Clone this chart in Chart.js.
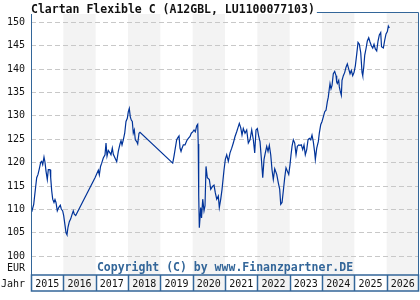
<!DOCTYPE html>
<html>
<head>
<meta charset="utf-8">
<script src="https://cdn.jsdelivr.net/npm/chart.js@4.4.0/dist/chart.umd.min.js"></script>
<style>
html, body { margin: 0; padding: 0; background: #fff; }
</style>
</head>
<body>
<canvas id="myChart" width="420" height="300"></canvas>
<script>
const chartTitle = 'Clartan Flexible C (A12GBL, LU1100077103)';
const copyright = 'Copyright (C) by www.Finanzpartner.DE';
const years = [2015, 2016, 2017, 2018, 2019, 2020, 2021, 2022, 2023, 2024, 2025, 2026];
const yTicks = [100, 105, 110, 115, 120, 125, 130, 135, 140, 145, 150];

// decimal years
const dates = [
    2015.022, 2015.084, 2015.114, 2015.145, 2015.176, 2015.217, 2015.257, 2015.300, 2015.331, 2015.362,
    2015.402, 2015.433, 2015.464, 2015.504, 2015.535, 2015.588, 2015.609, 2015.640, 2015.671, 2015.711,
    2015.742, 2015.773, 2015.813, 2015.857, 2015.906, 2015.937, 2015.980, 2016.011, 2016.052, 2016.083,
    2016.113, 2016.144, 2016.185, 2016.228, 2016.268, 2016.308, 2016.339, 2016.383, 2016.980, 2017.082,
    2017.113, 2017.150, 2017.187, 2017.236, 2017.289, 2017.320, 2017.351, 2017.391, 2017.443, 2017.474,
    2017.515, 2017.546, 2017.598, 2017.651, 2017.700, 2017.753, 2017.784, 2017.815, 2017.855, 2017.898,
    2017.938, 2017.979, 2018.010, 2018.040, 2018.071, 2018.102, 2018.133, 2018.164, 2018.195, 2018.226,
    2018.269, 2018.300, 2018.340, 2018.371, 2019.383, 2019.423, 2019.463, 2019.506, 2019.547, 2019.578,
    2019.609, 2019.640, 2019.671, 2019.711, 2019.763, 2019.816, 2019.865, 2019.918, 2019.958, 2020.001,
    2020.042, 2020.082, 2020.125, 2020.156, 2020.172, 2020.187, 2020.206, 2020.249, 2020.274, 2020.311,
    2020.351, 2020.382, 2020.413, 2020.453, 2020.515, 2020.558, 2020.620, 2020.660, 2020.700, 2020.744,
    2020.793, 2020.824, 2020.868, 2020.908, 2020.970, 2021.010, 2021.053, 2021.103, 2021.155, 2021.208,
    2021.257, 2021.310, 2021.362, 2021.412, 2021.443, 2021.486, 2021.526, 2021.566, 2021.619, 2021.671,
    2021.721, 2021.774, 2021.826, 2021.876, 2021.919, 2021.959, 2022.000, 2022.043, 2022.083, 2022.123,
    2022.167, 2022.207, 2022.247, 2022.290, 2022.331, 2022.371, 2022.414, 2022.454, 2022.494, 2022.538,
    2022.600, 2022.649, 2022.692, 2022.723, 2022.764, 2022.804, 2022.847, 2022.887, 2022.928, 2022.971,
    2023.011, 2023.042, 2023.073, 2023.113, 2023.156, 2023.197, 2023.237, 2023.280, 2023.320, 2023.360,
    2023.404, 2023.444, 2023.484, 2023.527, 2023.568, 2023.608, 2023.651, 2023.691, 2023.731, 2023.775,
    2023.794, 2023.837, 2023.886, 2023.917, 2023.960, 2024.001, 2024.041, 2024.084, 2024.124, 2024.164,
    2024.195, 2024.226, 2024.248, 2024.279, 2024.310, 2024.350, 2024.393, 2024.434, 2024.455, 2024.474,
    2024.517, 2024.536, 2024.557, 2024.598, 2024.619, 2024.660, 2024.703, 2024.743, 2024.783, 2024.827,
    2024.867, 2024.907, 2024.950, 2024.991, 2025.031, 2025.074, 2025.114, 2025.155, 2025.198, 2025.238,
    2025.260, 2025.291, 2025.322, 2025.362, 2025.402, 2025.445, 2025.485, 2025.526, 2025.569, 2025.609,
    2025.649, 2025.692, 2025.733, 2025.773, 2025.816, 2025.841, 2025.897, 2025.940, 2025.980, 2026.021,
    2026.052, 2026.083
];
const prices = [
    109.5, 111.1, 113.0, 114.9, 116.8, 117.5, 118.7, 120.1, 120.3, 119.6,
    121.2, 120.1, 118.2, 116.4, 118.5, 118.5, 116.8, 114.0, 112.2, 111.5,
    112.1, 111.5, 109.7, 110.4, 110.9, 110.1, 109.7, 108.7, 106.6, 105.0,
    104.6, 106.2, 107.4, 108.0, 108.9, 109.7, 109.0, 108.7, 116.8, 118.4,
    117.4, 119.2, 119.9, 121.0, 121.7, 124.2, 121.4, 122.6, 122.1, 121.7,
    123.1, 121.8, 121.0, 120.2, 122.4, 124.0, 124.7, 123.8, 124.9, 126.3,
    128.8, 129.5, 130.9, 131.6, 129.8, 129.1, 128.8, 126.3, 127.0, 124.9,
    124.5, 124.0, 126.3, 126.5, 119.9, 121.4, 123.1, 124.9, 125.4, 125.7,
    123.1, 122.4, 123.1, 123.8, 123.8, 124.7, 125.2, 125.6, 126.3, 126.6,
    127.0, 126.6, 127.9, 128.2, 124.0, 113.0, 106.1, 110.4, 108.2, 112.2,
    109.7, 110.8, 119.2, 116.8, 116.4, 114.3, 115.0, 115.2, 113.6, 112.2,
    112.9, 110.4, 112.2, 114.3, 118.5, 120.7, 121.7, 120.3, 122.1, 123.1,
    124.2, 125.6, 126.6, 127.7, 128.4, 127.5, 125.9, 127.3, 126.3, 127.0,
    124.2, 124.9, 127.0, 124.9, 122.1, 127.0, 127.3, 125.6, 124.5, 121.0,
    116.8, 120.7, 122.1, 123.5, 122.4, 123.7, 121.7, 118.5, 116.4, 118.7,
    117.5, 115.7, 114.3, 111.1, 111.5, 114.0, 116.8, 118.9, 118.2, 117.5,
    119.6, 121.7, 123.5, 124.9, 124.2, 121.7, 123.5, 123.8, 123.7, 123.8,
    122.8, 123.8, 121.7, 122.8, 124.9, 125.2, 124.9, 125.9, 124.5, 122.1,
    120.7, 123.1, 124.5, 126.3, 128.1, 128.8, 129.8, 130.9, 131.2, 133.0,
    134.0, 135.8, 136.9, 135.8, 136.5, 139.0, 139.5, 138.6, 137.2, 136.9,
    137.6, 136.2, 135.5, 134.4, 137.6, 138.6, 139.3, 140.4, 141.1, 140.0,
    139.0, 139.7, 138.6, 139.3, 140.7, 143.2, 145.7, 145.3, 143.5, 139.3,
    138.6, 140.4, 143.0, 144.4, 146.0, 146.7, 145.8, 145.0, 144.5, 145.3,
    144.3, 143.9, 146.0, 147.3, 147.8, 144.8, 144.5, 146.2, 147.5, 148.0,
    149.2, 148.8
];

const blue = '#336699';
const shade = '#f3f3f3';
const mono = 'DejaVu Sans Mono';

// background columns, frame, year boxes and texts
const decor = {
    id: 'decor',
    beforeDraw(chart) {
        const {ctx, chartArea: a, scales: {x}} = chart;
        ctx.save();
        ctx.fillStyle = '#fff';
        ctx.fillRect(0, 0, chart.width, chart.height);
        ctx.fillStyle = shade;
        years.forEach((yr, i) => {
            if (i % 2 === 1) {
                const x0 = x.getPixelForValue(yr), x1 = x.getPixelForValue(yr + 1);
                ctx.fillRect(x0, a.top, x1 - x0, a.bottom - a.top);
            }
        });
        ctx.restore();
    },
    afterDraw(chart) {
        const {ctx, chartArea: a, scales: {x}} = chart;
        ctx.save();
        // copyright
        ctx.font = 'bold 11.5px ' + mono;
        ctx.fillStyle = blue;
        ctx.textAlign = 'center';
        ctx.textBaseline = 'middle';
        ctx.fillText(copyright, (a.left + a.right) / 2, 268);

        // frame
        ctx.strokeStyle = blue;
        ctx.lineWidth = 1;
        ctx.beginPath();
        ctx.moveTo(a.left + 0.5, a.bottom);
        ctx.lineTo(a.left + 0.5, a.top + 0.5);
        ctx.lineTo(a.right - 0.5, a.top + 0.5);
        ctx.lineTo(a.right - 0.5, a.bottom);
        ctx.stroke();

        // year boxes
        const top = a.bottom, h = 16;
        ctx.font = '10px ' + mono;
        years.forEach((yr, i) => {
            const x0 = x.getPixelForValue(yr), x1 = x.getPixelForValue(yr + 1);
            ctx.fillStyle = i % 2 ? shade : '#fff';
            ctx.fillRect(x0, top, x1 - x0, h);
            ctx.fillStyle = '#111';
            ctx.fillText(String(yr), (x0 + x1) / 2, top + h / 2 + 1);
        });
        ctx.lineWidth = 1.5;
        ctx.strokeRect(a.left + 0.5, top, a.right - a.left - 1, h);
        years.slice(1).forEach(yr => {
            const px = Math.round(x.getPixelForValue(yr)) + 0.5;
            ctx.beginPath();
            ctx.moveTo(px, top);
            ctx.lineTo(px, top + h);
            ctx.stroke();
        });

        // axis captions
        ctx.fillStyle = '#111';
        ctx.textAlign = 'right';
        ctx.fillText('EUR', 25, 268);
        ctx.textAlign = 'left';
        ctx.fillText('Jahr', 1, top + h / 2 + 1);

        // title
        ctx.font = 'bold 11.5px ' + mono;
        ctx.textBaseline = 'alphabetic';
        const tw = ctx.measureText(chartTitle).width;
        ctx.fillStyle = '#fff';
        ctx.fillRect(29, 0, tw + 4, 14);
        ctx.fillStyle = '#111';
        ctx.fillText(chartTitle, 31, 12.5);
        ctx.restore();
    }
};

const ctx = document.getElementById('myChart').getContext('2d');
const myChart = new Chart(ctx, {
    type: 'line',
    data: {
        datasets: [{
            data: dates.map((d, i) => ({x: d, y: prices[i]})),
            borderColor: '#003399',
            borderWidth: 1.2,
            pointRadius: 0,
            tension: 0,
            fill: false
        }]
    },
    options: {
        responsive: false,
        animation: false,
        layout: { padding: { top: 9, left: 0, right: 1, bottom: 25 } },
        plugins: {
            legend: { display: false },
            title: { display: false },
            tooltip: { enabled: false }
        },
        scales: {
            x: {
                type: 'linear',
                min: 2015,
                max: 2027,
                display: false
            },
            y: {
                min: 96.0,
                max: 152.2,
                afterBuildTicks: s => { s.ticks = yTicks.map(v => ({value: v})); },
                afterFit: s => { s.width = 31; },
                grid: { color: '#c8c8c8', drawTicks: false },
                border: { display: false, dash: [5, 3] },
                ticks: {
                    padding: 6,
                    color: '#111',
                    font: { family: mono, size: 10 }
                }
            }
        }
    },
    plugins: [decor]
});
</script>
</body>
</html>
